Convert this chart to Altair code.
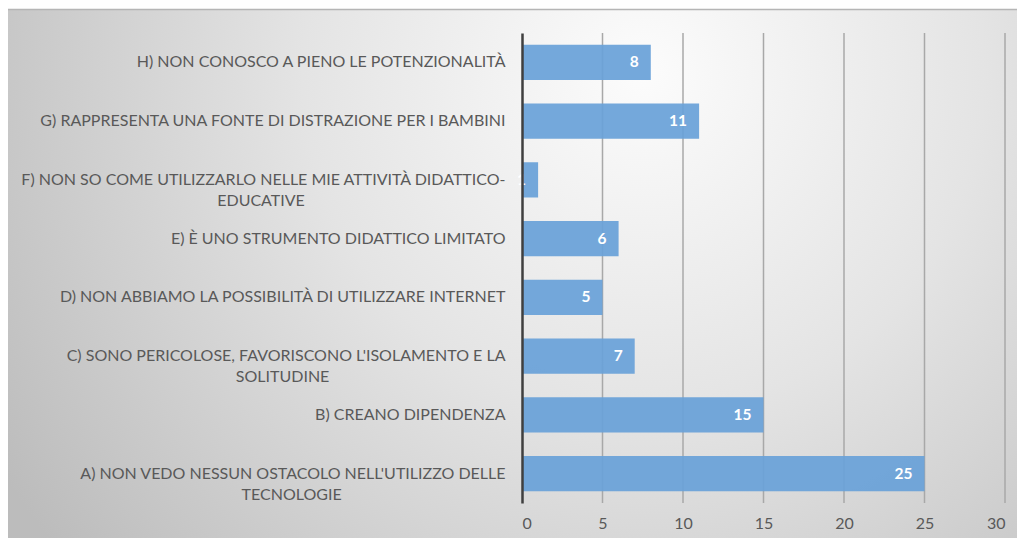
import altair as alt
import pandas as pd

# ---- data ----
categories = [
    "A) NON VEDO NESSUN OSTACOLO NELL'UTILIZZO DELLE|TECNOLOGIE",
    "B) CREANO DIPENDENZA",
    "C) SONO PERICOLOSE, FAVORISCONO L'ISOLAMENTO E LA|SOLITUDINE",
    "D) NON ABBIAMO LA POSSIBILITÀ DI UTILIZZARE INTERNET",
    "E) È UNO STRUMENTO DIDATTICO LIMITATO",
    "F) NON SO COME UTILIZZARLO NELLE MIE ATTIVITÀ DIDATTICO-|EDUCATIVE",
    "G) RAPPRESENTA UNA FONTE DI DISTRAZIONE PER I BAMBINI",
    "H) NON CONOSCO A PIENO LE POTENZIONALITÀ",
]
values = [25, 15, 7, 5, 6, 1, 11, 8]
x_ticks = [0, 5, 10, 15, 20, 25, 30]
grid_values = [5, 10, 15, 20, 25, 30]

# ---- layout helpers (second lines of wrapped labels are centred under the first) ----
FONT = "Lato"
LABEL_SIZE = 16
NBSP = "\u00a0"
ZWSP = "\u200b"
pad_counts = {"A": 40, "C": 43, "F": 49}


def make_label(cat):
    if "|" not in cat:
        return cat
    first, second = cat.split("|")
    return first + "|" + second + NBSP * pad_counts[cat[0]] + ZWSP


labels = [make_label(c) for c in categories]
order = list(reversed(labels))  # H on top, A at bottom

df = pd.DataFrame({"label": labels, "value": values})
grid_df = pd.DataFrame({"g": grid_values})

W, H = 483, 470
PAD = {"left": 514, "top": 25, "right": 12, "bottom": 35}

x_scale = alt.Scale(domain=[0, 30], nice=False)
y_enc = alt.Y(
    "label:N",
    sort=order,
    scale=alt.Scale(paddingInner=0.4, paddingOuter=0.2),
    axis=alt.Axis(
        title=None,
        labelExpr="split(datum.label, '|')",
        labelFont=FONT,
        labelFontSize=LABEL_SIZE,
        labelColor="#595959",
        labelLimit=0,
        labelLineHeight=21,
        labelPadding=17,
        ticks=False,
        domainColor="#3f3f3f",
        domainWidth=2.5,
        grid=False,
        zindex=1,
    ),
)

background = alt.Chart(alt.Data(values=[{}])).mark_rect(
    fill=alt.Gradient(
        gradient="radial",
        stops=[
            alt.GradientStop(offset=0, color="#fcfcfc"),
            alt.GradientStop(offset=0.45, color="#e4e4e4"),
            alt.GradientStop(offset=1, color="#bcbcbc"),
        ],
        x1=0.63, y1=0.3, r1=0,
        x2=0.63, y2=0.3, r2=0.75,
    ),
).encode(
    x=alt.value(-PAD["left"]),
    x2=alt.value(W + PAD["right"]),
    y=alt.value(-PAD["top"] + 1),
    y2=alt.value(H + PAD["bottom"]),
)

top_line = alt.Chart(alt.Data(values=[{}])).mark_rule(
    color="#b5b5b5", strokeWidth=1.5
).encode(
    x=alt.value(-PAD["left"]),
    x2=alt.value(W + PAD["right"]),
    y=alt.value(-PAD["top"] + 1.5),
)

grid = alt.Chart(grid_df).mark_rule(color="#a8a8a8", strokeWidth=1.5).encode(
    x=alt.X("g:Q", scale=x_scale)
)

bars = alt.Chart(df).mark_bar(color="#69a1d8", opacity=0.93).encode(
    x=alt.X(
        "value:Q",
        scale=x_scale,
        axis=alt.Axis(
            title=None,
            values=x_ticks,
            grid=False,
            ticks=False,
            domain=False,
            labelFont=FONT,
            labelFontSize=16,
            labelColor="#595959",
            labelPadding=12,
            zindex=1,
        ),
    ),
    y=y_enc,
)

text = alt.Chart(df).mark_text(
    align="right", baseline="middle", dx=-12, color="white",
    font=FONT, fontWeight="bold", fontSize=15.5,
).encode(
    x=alt.X("value:Q", scale=x_scale),
    y=alt.Y("label:N", sort=order),
    text=alt.Text("value:Q"),
)

chart = alt.layer(background, top_line, grid, bars, text).properties(
    width=W,
    height=H,
    padding=PAD,
    autosize=alt.AutoSizeParams(type="none"),
).configure_view(stroke=None)

chart.save("out.html", embed_options={"renderer": "svg", "actions": False})
